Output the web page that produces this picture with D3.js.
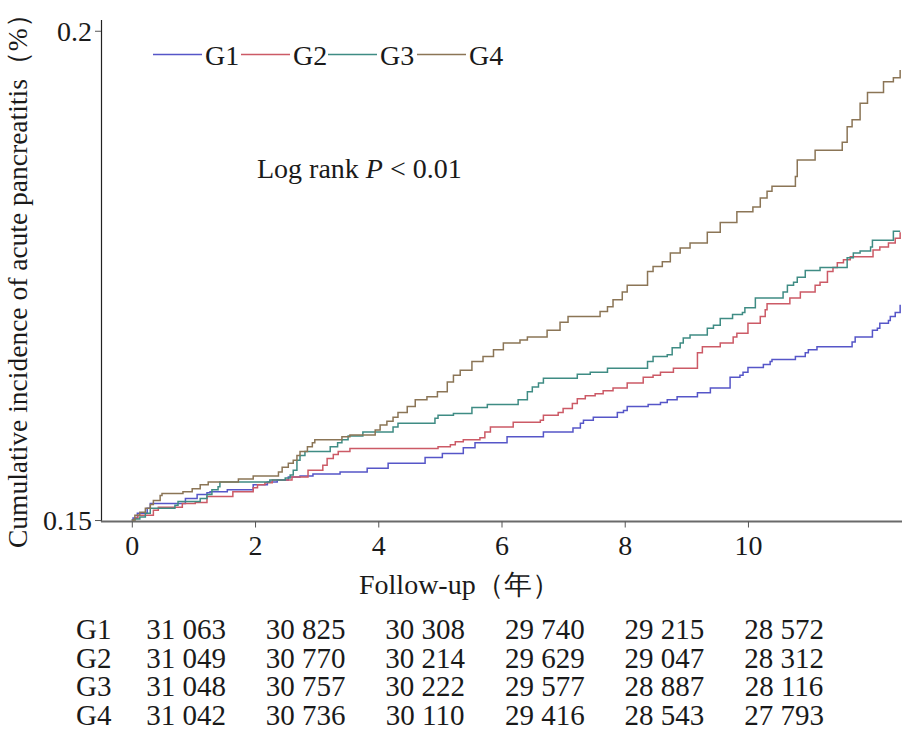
<!DOCTYPE html>
<html>
<head>
<meta charset="utf-8">
<script src="https://cdn.jsdelivr.net/npm/d3@7"></script>
<style>
  html, body { margin: 0; padding: 0; background: #fff; }
  svg { display: block; }
</style>
</head>
<body>
<svg id="chart" width="916" height="730"></svg>
<script>
// ---- data ----
const groups = ["G1", "G2", "G3", "G4"];
const colors = ["#5656c8", "#cc5a66", "#3f8c84", "#8b7556"];
const xTicks = [0, 2, 4, 6, 8, 10];
const yTicks = [0.15, 0.2];

const g1 = [[0,.15],[0.02,.1502],[0.09,.1507],[0.25,.1512],[0.30,.1517],[0.87,.1522],[1.06,.1526],[1.22,.1528],[1.27,.1529],[1.55,.1531],[1.97,.1536],[2.20,.1539],[2.36,.1541],[2.54,.1544],[2.73,.1545],[2.94,.1547],[3.38,.1549],[3.82,.1553],[4.16,.1558],[4.76,.1564],[5.04,.1568],[5.38,.1574],[5.57,.1579],[6.09,.1585],[6.68,.1590],[7.16,.1594],[7.28,.1599],[7.33,.1602],[7.49,.1605],[7.88,.1610],[7.98,.1612],[8.04,.1616],[8.38,.1618],[8.58,.1620],[8.69,.1623],[8.85,.1626],[9.18,.1630],[9.39,.1635],[9.71,.1646],[9.87,.1648],[9.92,.1651],[10.00,.1656],[10.25,.1659],[10.36,.1662],[10.39,.1664],[10.77,.1667],[10.93,.1671],[10.98,.1674],[11.12,.1677],[11.69,.1682],[11.74,.1687],[12.02,.1694],[12.10,.1696],[12.14,.1701],[12.28,.1704],[12.31,.1708],[12.39,.1712],[12.47,.1720]];

const g2 = [[0,.15],[0.05,.1502],[0.10,.1505],[0.35,.1510],[0.43,.1513],[0.82,.1517],[1.03,.1518],[1.22,.1524],[1.64,.1529],[1.97,.1533],[2.04,.1536],[2.16,.1538],[2.28,.1541],[2.60,.1544],[2.86,.1551],[3.10,.1556],[3.17,.1563],[3.27,.1567],[3.35,.1570],[3.54,.1573],[4.97,.1575],[5.17,.1577],[5.25,.1580],[5.38,.1582],[5.65,.1584],[5.73,.1590],[5.82,.1595],[6.19,.1600],[6.63,.1602],[6.68,.1607],[6.92,.1610],[7.00,.1614],[7.15,.1619],[7.23,.1624],[7.36,.1627],[7.52,.1629],[7.65,.1632],[7.81,.1635],[8.04,.1640],[8.30,.1646],[8.46,.1648],[8.58,.1651],[8.79,.1655],[9.18,.1671],[9.26,.1677],[9.55,.1681],[9.76,.1687],[9.82,.1691],[10.00,.1701],[10.20,.1708],[10.28,.1715],[10.31,.1721],[10.68,.1727],[10.85,.1733],[11.09,.1740],[11.17,.1743],[11.29,.1754],[11.38,.1758],[11.45,.1763],[11.55,.1766],[11.66,.1769],[12.03,.1776],[12.14,.1779],[12.28,.1783],[12.39,.1788],[12.47,.1794]];

const g3 = [[0,.15],[0.05,.1501],[0.13,.1503],[0.22,.1507],[0.30,.1512],[0.70,.1515],[0.75,.1519],[1.11,.1522],[1.22,.1526],[1.30,.1531],[1.40,.1534],[1.43,.1539],[2.24,.1541],[2.49,.1543],[2.57,.1546],[2.62,.1551],[2.68,.1561],[2.73,.1566],[2.81,.1570],[3.22,.1575],[3.34,.1579],[3.41,.1582],[3.51,.1586],[3.75,.1590],[4.24,.1595],[4.32,.1599],[4.92,.1604],[4.97,.1607],[5.22,.1609],[5.52,.1615],[5.77,.1618],[6.27,.1623],[6.42,.1631],[6.50,.1636],[6.60,.1640],[6.68,.1645],[7.23,.1649],[7.44,.1651],[7.72,.1655],[8.37,.1662],[8.46,.1667],[8.69,.1669],[8.77,.1676],[8.90,.1681],[8.95,.1686],[9.06,.1689],[9.34,.1696],[9.44,.1699],[9.55,.1706],[9.75,.1710],[9.91,.1712],[9.95,.1717],[10.12,.1727],[10.57,.1733],[10.64,.1740],[10.74,.1743],[10.80,.1748],[10.93,.1755],[11.17,.1758],[11.61,.1768],[11.71,.1773],[11.82,.1775],[11.99,.1779],[12.02,.1786],[12.36,.1795],[12.47,.1795]];

const g4 = [[0,.15],[0.05,.1505],[0.13,.1508],[0.22,.1512],[0.30,.1516],[0.35,.1520],[0.46,.1525],[0.49,.1527],[0.83,.1529],[0.98,.1532],[1.11,.1536],[1.24,.1539],[1.73,.1542],[1.97,.1545],[2.38,.1549],[2.44,.1554],[2.54,.1558],[2.62,.1561],[2.68,.1566],[2.73,.1570],[2.85,.1575],[2.93,.1579],[2.97,.1582],[3.41,.1585],[3.54,.1587],[3.95,.1592],[4.03,.1597],[4.14,.1601],[4.24,.1605],[4.32,.1610],[4.47,.1616],[4.60,.1623],[4.79,.1626],[4.96,.1631],[5.12,.1641],[5.22,.1648],[5.33,.1653],[5.52,.1662],[5.70,.1667],[5.87,.1674],[6.03,.1681],[6.30,.1684],[6.42,.1687],[6.74,.1694],[6.95,.1702],[7.08,.1708],[7.60,.1713],[7.72,.1718],[7.81,.1725],[7.96,.1733],[8.04,.1740],[8.37,.1754],[8.46,.1759],[8.61,.1764],[8.74,.1773],[8.90,.1778],[9.06,.1783],[9.34,.1794],[9.55,.1804],[9.82,.1815],[10.08,.1820],[10.20,.1829],[10.31,.1836],[10.39,.1841],[10.77,.1851],[10.80,.1868],[11.09,.1878],[11.53,.1886],[11.61,.1902],[11.69,.1909],[11.82,.1926],[11.94,.1937],[12.20,.1948],[12.36,.1952],[12.47,.1960]];

const series = [g1, g2, g3, g4];

// numbers at risk
const atRiskG1 = ["31 063", "30 825", "30 308", "29 740", "29 215", "28 572"];
const atRiskG2 = ["31 049", "30 770", "30 214", "29 629", "29 047", "28 312"];
const atRiskG3 = ["31 048", "30 757", "30 222", "29 577", "28 887", "28 116"];
const atRiskG4 = ["31 042", "30 736", "30 110", "29 416", "28 543", "27 793"];
const atRisk = [atRiskG1, atRiskG2, atRiskG3, atRiskG4];

// ---- drawing ----
const FONT = "Liberation Serif";
const INK = "#1a1a1a";
const svg = d3.select("#chart");
const root = svg.append("g");
const x = d3.scaleLinear().domain([-0.5, 12.5]).range([101, 902]);
const y = d3.scaleLinear().domain([0.1498, 0.2011]).range([522, 20]);

// y axis
const yAxis = root.append("g").attr("transform", "translate(101,0)")
  .call(d3.axisLeft(y).tickValues(yTicks).tickSize(6).tickPadding(3)
        .tickFormat(d => d === 0.2 ? "0.2" : "0.15"));
yAxis.attr("font-family", FONT).attr("font-size", 28);
yAxis.select(".domain").attr("stroke", "#222").attr("stroke-width", 1.2)
  .attr("d", "M0.5,20V522");
yAxis.selectAll(".tick line").attr("stroke", "#555");
yAxis.selectAll("text").attr("fill", INK).attr("dy", "0.35em");

// x axis
const xAxis = root.append("g").attr("transform", "translate(0,521.5)")
  .call(d3.axisBottom(x).tickValues(xTicks).tickSize(6).tickPadding(8).tickFormat(d3.format("d")));
xAxis.attr("font-family", FONT).attr("font-size", 28);
xAxis.select(".domain").attr("stroke", "#6a6a6a").attr("stroke-width", 2.2)
  .attr("d", "M101,0H902");
xAxis.selectAll(".tick line").attr("stroke", "#555");
xAxis.selectAll("text").attr("fill", INK);

// curves
const line = d3.line().x(d => x(d[0])).y(d => y(d[1])).curve(d3.curveStepAfter);
root.append("g").selectAll("path").data(series).join("path")
  .attr("d", line)
  .attr("fill", "none")
  .attr("stroke", (d, i) => colors[i])
  .attr("stroke-width", 1.5);

// legend
const legendX = [153, 241, 328, 417];
const lg = root.append("g");
groups.forEach((g, i) => {
  lg.append("line").attr("x1", legendX[i]).attr("x2", legendX[i] + 49)
    .attr("y1", 54.5).attr("y2", 54.5).attr("stroke", colors[i]).attr("stroke-width", 1.5);
  lg.append("text").attr("x", legendX[i] + 52).attr("y", 65)
    .attr("font-family", FONT).attr("font-size", 28).attr("fill", INK).text(g);
});

// annotation
const ann = root.append("text").attr("x", 257).attr("y", 178)
  .attr("font-family", FONT).attr("font-size", 28).attr("fill", INK);
ann.append("tspan").text("Log rank ");
ann.append("tspan").attr("font-style", "italic").text("P");
ann.append("tspan").text(" < 0.01");

// axis titles
root.append("text").attr("transform", "translate(27,548) rotate(-90)")
  .attr("font-family", FONT).attr("font-size", 27.5).attr("fill", INK)
  .text("Cumulative incidence of acute pancreatitis（%）");
root.append("text").attr("x", 359).attr("y", 594)
  .attr("font-family", FONT).attr("font-size", 28).attr("fill", INK)
  .text("Follow-up（年）");

// at-risk table
const col = d3.scaleLinear().domain([0, 5]).range([186, 784]);
const rowY = d3.scaleLinear().domain([0, 3]).range([639, 725]);
groups.forEach((g, r) => {
  root.append("text").attr("x", 76).attr("y", rowY(r))
    .attr("font-family", FONT).attr("font-size", 29).attr("fill", INK).text(g);
  atRisk[r].forEach((v, c) => {
    root.append("text").attr("x", col(c)).attr("y", rowY(r)).attr("text-anchor", "middle")
      .attr("font-family", FONT).attr("font-size", 29).attr("fill", INK).text(v);
  });
});
</script>
</body>
</html>
